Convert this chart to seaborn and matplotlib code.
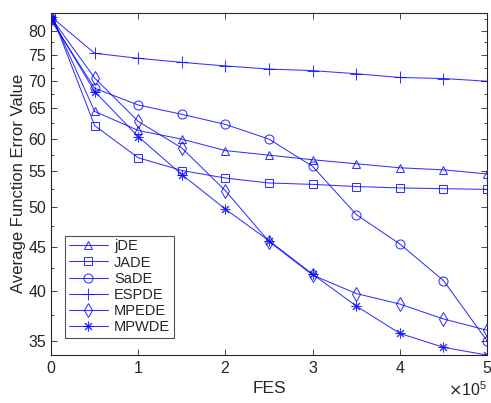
import numpy as np
import pandas as pd
import matplotlib
matplotlib.use("Agg")
import matplotlib.pyplot as plt
import seaborn as sns
from matplotlib.ticker import FixedLocator, FixedFormatter, NullFormatter, ScalarFormatter

# Function evaluations at which the error was recorded
fes = [0, 50000, 100000, 150000, 200000, 250000, 300000, 350000, 400000, 450000, 500000]

# Average function error value per algorithm
jde = [83.5, 64.5, 61.3, 59.9, 58.1, 57.4, 56.7, 56.1, 55.5, 55.2, 54.6]
jade = [83.9, 62.1, 57.0, 55.1, 54.0, 53.3, 53.1, 52.8, 52.6, 52.5, 52.4]
sade = [82.2, 68.6, 65.6, 64.0, 62.3, 59.9, 55.7, 49.0, 45.3, 41.1, 35.0]
espde = [83.0, 75.3, 74.3, 73.5, 72.8, 72.2, 71.9, 71.3, 70.6, 70.4, 69.9]
mpede = [82.8, 70.5, 62.8, 58.5, 52.2, 45.6, 41.7, 39.7, 38.6, 37.1, 36.0]
mpwde = [82.6, 68.0, 60.3, 54.5, 49.7, 45.7, 41.8, 38.4, 35.7, 34.4, 33.7]

names = ["jDE", "JADE", "SaDE", "ESPDE", "MPEDE", "MPWDE"]
series = [jde, jade, sade, espde, mpede, mpwde]
# asterisk with eight spokes for the last series
markers = ["^", "s", "o", "+", "d", (8, 2, 0)]
msizes = [6, 6, 6.5, 8, 7, 7]

yticks = [35, 40, 45, 50, 55, 60, 65, 70, 75, 80]
yminor = [37.5, 42.5, 47.5, 52.5, 57.5, 62.5, 67.5, 72.5, 77.5, 82.5]

sns.set_style("white")
plt.rcParams["font.family"] = ["Liberation Sans", "DejaVu Sans"]

fig = plt.figure(figsize=(4.91, 4.03), dpi=100)
ax = fig.add_axes([0.104, 0.119, 0.888, 0.8495])

blue = "#0000ff"
for name, vals, mk, ms in zip(names, series, markers, msizes):
    df = pd.DataFrame({"FES": fes, "err": vals})
    sns.lineplot(data=df, x="FES", y="err", ax=ax, color=blue, linewidth=0.75,
                 alpha=0.8, marker=mk, markersize=ms,
                 markerfacecolor="none", markeredgecolor=blue,
                 markeredgewidth=0.75, label=name)

ax.set_yscale("log")
ax.set_xlim(0, 500000)
ax.set_ylim(33.7, 83.9)

ax.yaxis.set_major_locator(FixedLocator(yticks))
ax.yaxis.set_major_formatter(FixedFormatter([str(t) for t in yticks]))
ax.yaxis.set_minor_locator(FixedLocator(yminor))
ax.yaxis.set_minor_formatter(NullFormatter())

fmt = ScalarFormatter(useMathText=True)
fmt.set_powerlimits((0, 0))
ax.xaxis.set_major_formatter(fmt)
ax.set_xticks([0, 100000, 200000, 300000, 400000, 500000])

grey = "#262626"
for sp in ax.spines.values():
    sp.set_color(grey)
    sp.set_linewidth(0.8)
ax.tick_params(axis="both", which="both", direction="in", colors=grey,
               top=True, right=True, bottom=True, left=True, labelsize=11.5)
ax.tick_params(axis="both", which="major", length=4, width=0.6)
ax.tick_params(axis="y", which="minor", length=2.5, width=0.6)
ax.tick_params(axis="x", which="minor", bottom=False, top=False)
ax.xaxis.get_offset_text().set_fontsize(11.5)
ax.xaxis.get_offset_text().set_color(grey)

ax.set_xlabel("FES", fontsize=12.5, color=grey, labelpad=4)
ax.set_ylabel("Average Function Error Value", fontsize=12, color=grey, labelpad=2)

leg = ax.legend(loc="lower left", bbox_to_anchor=(0.032, 0.05), borderaxespad=0,
                fontsize=10.5, frameon=True, fancybox=False, handlelength=2.7,
                borderpad=0.25, labelspacing=0.15, handletextpad=0.4)
leg.get_frame().set_edgecolor(grey)
leg.get_frame().set_linewidth(0.8)
for t in leg.get_texts():
    t.set_color(grey)

fig.savefig("out.png", dpi=100)
